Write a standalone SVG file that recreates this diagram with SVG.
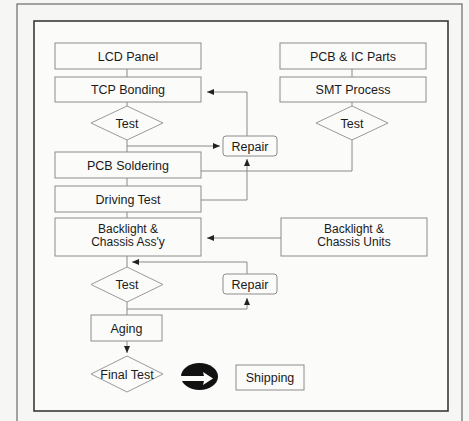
<svg xmlns="http://www.w3.org/2000/svg" width="469" height="421" viewBox="0 0 469 421">
<style>
.bg{fill:#f6f6f5}
.box{fill:#fbfbfa;stroke:#8c8c8c;stroke-width:1}
.dia{fill:#fbfbfa;stroke:#9a9a9a;stroke-width:1}
.t{font-family:"Liberation Sans",Arial,sans-serif;font-size:12.5px;fill:#1a1a1a;text-anchor:middle}
.t2{font-size:12px}
.c{fill:none;stroke:#8a8a8a;stroke-width:1}
.a{marker-end:url(#ah)}
</style>
<defs>
<marker id="ah" markerUnits="userSpaceOnUse" markerWidth="8" markerHeight="8" viewBox="0 0 8 8" refX="7" refY="4" orient="auto">
<path d="M0,1 L7,4 L0,7 Z" fill="#222"/>
</marker>
</defs>
<rect class="bg" x="0" y="0" width="469" height="421"/>
<rect x="17" y="4" width="445" height="430" fill="none" stroke="#6a6a6a" stroke-width="1.2"/>
<rect x="34" y="21" width="414" height="390" fill="#fbfbfa" stroke="#3a3a3a" stroke-width="1.6"/>

<g id="connectors">
<line class="c" x1="127" y1="69" x2="127" y2="77"/>
<line class="c" x1="127" y1="102" x2="127" y2="106"/>
<line class="c" x1="127" y1="140" x2="127" y2="152"/>
<polyline class="c a" points="127,146 220,146"/>
<polyline class="c a" points="247,136 247,92 207,92"/>
<polyline class="c" points="201,171 352,171 352,140"/>
<line class="c" x1="127" y1="178" x2="127" y2="186"/>
<line class="c" x1="127" y1="212" x2="127" y2="218"/>
<polyline class="c a" points="201,200 247,200 247,159"/>
<line class="c" x1="352" y1="69" x2="352" y2="77"/>
<line class="c" x1="352" y1="102" x2="352" y2="106"/>
<polyline class="c a" points="281,238 207,238"/>
<line class="c" x1="127" y1="256" x2="127" y2="267"/>
<polyline class="c a" points="247,274 247,262 132,262"/>
<polyline class="c a" points="127,309 247,309 247,298"/>
<line class="c" x1="127" y1="302" x2="127" y2="315"/>
<polyline class="c a" points="127,341 127,353"/>
</g>

<g id="lcd-panel"><rect class="box" x="55" y="43" width="146" height="26"/><text class="t" x="128" y="60.5">LCD Panel</text></g>
<g id="tcp-bonding"><rect class="box" x="55" y="77" width="146" height="25"/><text class="t" x="128" y="94">TCP Bonding</text></g>
<g id="test1"><polygon class="dia" points="127,106 163,123 127,140 91,123"/><text class="t" x="127" y="127.5">Test</text></g>
<g id="pcb-soldering"><rect class="box" x="55" y="152" width="146" height="26"/><text class="t" x="128" y="169.5">PCB Soldering</text></g>
<g id="driving-test"><rect class="box" x="55" y="186" width="146" height="26"/><text class="t" x="128" y="203.5">Driving Test</text></g>
<g id="backlight-assy"><rect class="box" x="55" y="218" width="146" height="38"/><text class="t t2" x="128" y="233">Backlight &amp;</text><text class="t t2" x="128" y="246">Chassis Ass'y</text></g>
<g id="repair1"><rect class="box" x="223" y="136" width="54" height="20" rx="3"/><text class="t" x="250" y="150.5">Repair</text></g>
<g id="pcb-ic-parts"><rect class="box" x="280" y="43" width="146" height="26"/><text class="t" x="353" y="60.5">PCB &amp; IC Parts</text></g>
<g id="smt-process"><rect class="box" x="280" y="77" width="146" height="25"/><text class="t" x="353" y="94">SMT Process</text></g>
<g id="test-smt"><polygon class="dia" points="352,106 388,123 352,140 316,123"/><text class="t" x="352" y="127.5">Test</text></g>
<g id="backlight-units"><rect class="box" x="281" y="218" width="146" height="38"/><text class="t t2" x="354" y="233">Backlight &amp;</text><text class="t t2" x="354" y="246">Chassis Units</text></g>
<g id="test2"><polygon class="dia" points="127,267 163,284.5 127,302 91,284.5"/><text class="t" x="127" y="289">Test</text></g>
<g id="repair2"><rect class="box" x="223" y="274" width="54" height="20" rx="3"/><text class="t" x="250" y="288.5">Repair</text></g>
<g id="aging"><rect class="box" x="91" y="315" width="71" height="26"/><text class="t" x="126.5" y="332.5">Aging</text></g>
<g id="final-test"><polygon class="dia" points="127,356 163,374 127,392 91,374"/><text class="t" x="127" y="379">Final Test</text></g>
<g id="big-arrow"><ellipse cx="199.5" cy="376.5" rx="18.5" ry="13.5" fill="#111"/><polygon points="181,376 204,376 203,372 213,378.5 203,385 204,381 181,381" fill="#fbfbfa"/></g>
<g id="shipping"><rect class="box" x="236" y="365" width="68" height="25"/><text class="t" x="270" y="381.5">Shipping</text></g>
</svg>
